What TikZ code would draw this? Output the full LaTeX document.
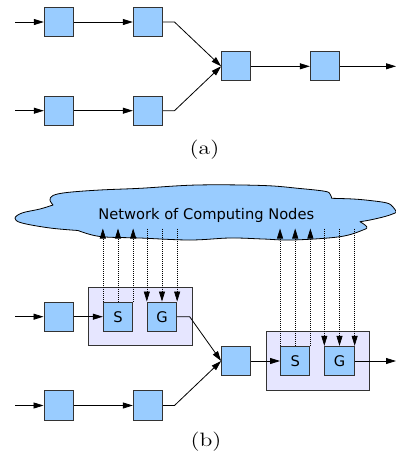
\documentclass[tikz,border=0pt]{standalone}
\usepackage{fontspec}
\usepackage{graphicx}
\newfontfamily\dejavu{DejaVu Sans}
\usetikzlibrary{arrows.meta}
\definecolor{boxblue}{HTML}{99CCFF}
\definecolor{grpfill}{HTML}{E6E6FF}
\definecolor{boxline}{HTML}{333333}
\newcommand{\widelabel}[1]{\scalebox{1.22}[1]{#1}}
\begin{document}
\begin{tikzpicture}[x=0.75pt,y=-0.75pt,
  blk/.style={draw=boxline, fill=boxblue, line width=0.75pt, minimum width=22pt, minimum height=22pt, inner sep=0pt},
  sg/.style={blk, font=\dejavu\fontsize{11}{13}\selectfont},
  grp/.style={draw=boxline, fill=grpfill, line width=0.75pt, inner sep=0pt},
  conn/.style={line width=0.6pt, -{Triangle[length=7.5pt,width=4.5pt]}},
  dots/.style={line width=0.5pt, dash pattern=on 0.75pt off 0.75pt, -{Triangle[length=7.5pt,width=4.5pt]}},
  cloudsty/.style={draw=black, fill=boxblue, line width=0.6pt, line join=round},
  sublabel/.style={font=\fontsize{14.5}{16}\selectfont}]
\useasboundingbox (0,0) rectangle (396,458);
% ---------- (a) ----------
\node[blk] (a1) at (59,22) {};
\node[blk] (a2) at (148,22) {};
\node[blk] (a3) at (59,110.7) {};
\node[blk] (a4) at (148,110.7) {};
\node[blk] (a5) at (236.3,66.3) {};
\node[blk] (a6) at (325,66.3) {};
\coordinate (ain1) at (15,22);
\coordinate (ain3) at (15,110.7);
\coordinate (aout) at (396,66.3);
\draw[conn] (ain1) -- (a1);
\draw[conn] (a1) -- (a2);
\draw[conn] (ain3) -- (a3);
\draw[conn] (a3) -- (a4);
\draw[conn] (a2.east) -- ++(11.3,0) -- (a5.west);
\draw[conn] (a4.east) -- ++(11.3,0) -- (a5.west);
\draw[conn] (a5) -- (a6);
\draw[conn] (a6) -- (aout);
\node[sublabel] (la) at (204.5,149.5) {\widelabel{(a)}};
% ---------- (b) ----------
\path[cloudsty]
  plot[smooth,tension=0.6] coordinates {(53,205) (40,209) (22,213) (15,218.3) (22,223) (50,228) (78,230.5)}
  -- plot[smooth,tension=0.6] coordinates {(78,230.5) (100,236.5) (140,238) (190,240) (230,238) (263,239) (293,240) (340,236.7) (363,230) (366.7,226.7) (360,221.7)}
  -- plot[smooth,tension=0.6] coordinates {(360,221.7) (370,220) (385,216.5) (395,213) (396,211.5) (393,207) (387,203) (370,200.5) (353,199) (331.7,198.3)}
  -- plot[smooth,tension=0.6] coordinates {(331.7,198.3) (330,194) (325,191.3) (300,188.5) (263,185.5) (197,185) (140,188.3) (100,190) (67,192.5) (53,195.5) (50,200) (53,205)}
  -- cycle;
\coordinate (ctop) at (0,228.5);
\node[grp, minimum width=77.8pt, minimum height=43.8pt] (g1) at (140.2,316.5) {};
\node[grp, minimum width=77.25pt, minimum height=44.25pt] (g2) at (317.5,361.2) {};
\node[blk] (b1) at (58.7,316.7) {};
\node[sg] (s1) at (118,316.7) {S};
\node[sg] (t1) at (162,316.7) {G};
\node[blk] (b3) at (58.7,405.5) {};
\node[blk] (b4) at (148,405.5) {};
\node[blk] (b5) at (236.3,361) {};
\node[sg] (s2) at (295.2,361) {S};
\node[sg] (t2) at (339.5,361) {G};
\coordinate (bin1) at (15,316.7);
\coordinate (bin3) at (15,405.5);
\coordinate (bout) at (396,361);
% dotted links to the network
\draw[dots] (s1.north west) -- (s1.north west |- ctop);
\draw[dots] (s1.north) -- (s1.north |- ctop);
\draw[dots] (s1.north east) -- (s1.north east |- ctop);
\draw[dots] (t1.north west |- ctop) -- (t1.north west);
\draw[dots] (t1.north |- ctop) -- (t1.north);
\draw[dots] (t1.north east |- ctop) -- (t1.north east);
\draw[dots] (s2.north west) -- (s2.north west |- ctop);
\draw[dots] (s2.north) -- (s2.north |- ctop);
\draw[dots] (s2.north east) -- (s2.north east |- ctop);
\draw[dots] (t2.north west |- ctop) -- (t2.north west);
\draw[dots] (t2.north |- ctop) -- (t2.north);
\draw[dots] (t2.north east |- ctop) -- (t2.north east);
\node[anchor=base, font=\dejavu\fontsize{11}{13}\selectfont] (net) at (206.3,219.3) {Network of Computing Nodes};
% flow
\draw[conn] (bin1) -- (b1);
\draw[conn] (b1) -- (s1);
\draw[conn] (bin3) -- (b3);
\draw[conn] (b3) -- (b4);
\draw[conn] (t1.east) -- ++(12.5,0) -- (b5.west);
\draw[conn] (b4.east) -- ++(11.3,0) -- (b5.west);
\draw[conn] (b5) -- (s2);
\draw[conn] (t2) -- (bout);
\node[sublabel] (lb) at (206,441.7) {\widelabel{(b)}};
\end{tikzpicture}
\end{document}
